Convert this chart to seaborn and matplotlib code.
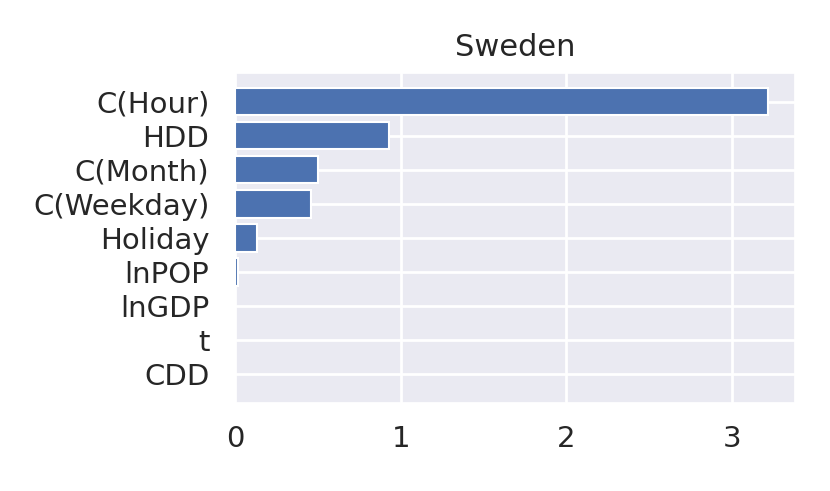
import numpy as np
import pandas as pd
import matplotlib
matplotlib.use("Agg")
import matplotlib.pyplot as plt
import seaborn as sns

# Variable importance, Sweden
features = ["C(Hour)", "HDD", "C(Month)", "C(Weekday)", "Holiday", "lnPOP", "lnGDP", "t", "CDD"]
importance = [3.22, 0.93, 0.50, 0.46, 0.13, 0.02, 0.003, 0.002, 0.001]
title = "Sweden"

sns.set_theme(style="darkgrid", font_scale=1.0)
plt.rcParams['font.family'] = ['DejaVu Sans']

df = pd.DataFrame({"feature": features, "importance": importance})

fig = plt.figure(figsize=(8.3, 4.91), dpi=100)
ax = fig.add_axes([235 / 830, 1 - 403 / 491, (795 - 235) / 830, (403 - 73) / 491])
sns.barplot(data=df, x="importance", y="feature", orient="h", color="#4C72B0",
            saturation=1, width=0.8, edgecolor="white", linewidth=1.5, ax=ax)

ax.set_xlim(0, max(importance) * 1.05)
ax.set_ylim(len(features) - 1 + 0.84, -0.84)
ax.set_xticks([0, 1, 2, 3])
ax.set_xlabel("")
ax.set_ylabel("")
ax.set_title(title, fontsize=22, pad=12)
ax.tick_params(axis="both", labelsize=21)
ax.tick_params(axis="x", pad=10)
ax.tick_params(axis="y", pad=12.5)
ax.grid(True, color="white", linewidth=2)

fig.savefig("out.png", dpi=100)
